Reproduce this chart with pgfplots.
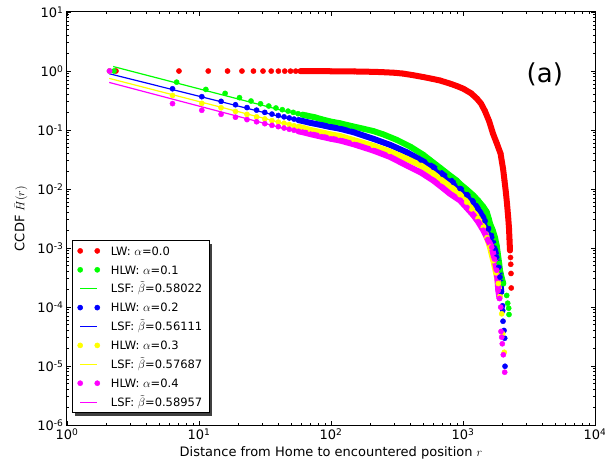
\documentclass[border=0pt]{standalone}
\usepackage{fontspec}
\setmainfont{DejaVu Sans}
\usepackage{pgfplots}
\pgfplotsset{compat=1.18}
\definecolor{cR}{RGB}{255,0,0}
\definecolor{cG}{RGB}{0,255,0}
\definecolor{cB}{RGB}{0,0,255}
\definecolor{cY}{RGB}{255,255,0}
\definecolor{cM}{RGB}{255,0,255}
\pgfplotsset{
  band/.style={line width=6pt, line join=round, line cap=round, no marks, forget plot},
  dots/.style={only marks, mark=*, mark size=2.6pt,
    legend image code/.code={\draw[##1, only marks, mark repeat=1, mark phase=1] plot coordinates {(0cm,0cm) (0.6cm,0cm)};}},
  fit/.style={no marks, line width=1.2pt},
}
\begin{document}
\begin{tikzpicture}
\begin{axis}[
  scale only axis, width=528pt, height=413pt,
  xmode=log, ymode=log,
  xmin=1, xmax=10000, ymin=1e-6, ymax=10,
  xtick={1,10,100,1000,10000},
  xticklabels={10\textsuperscript{0},10\textsuperscript{1},10\textsuperscript{2},10\textsuperscript{3},10\textsuperscript{4}},
  ytick={1e-6,1e-5,1e-4,1e-3,1e-2,1e-1,1,10},
  yticklabels={10\textsuperscript{-6},10\textsuperscript{-5},10\textsuperscript{-4},10\textsuperscript{-3},10\textsuperscript{-2},10\textsuperscript{-1},10\textsuperscript{0},10\textsuperscript{1}},
  tick label style={font=\fontsize{13}{15}\selectfont},
  label style={font=\fontsize{13}{15}\selectfont},
  xlabel={Distance from Home to encountered position $r$},
  ylabel={CCDF $\bar{H}(r)$},
  ylabel shift=3pt,
  axis line style={line width=1pt},
  tick style={line width=0.8pt, black},
  major tick length=4.5pt, minor tick length=2.5pt,
  legend cell align=left,
  legend style={at={(axis description cs:0.0197,0.4449)}, anchor=north west,
    font=\fontsize{11.5}{13}\selectfont, draw=none, fill=none,
    inner sep=0pt, inner ysep=3.25pt, row sep=6.5pt, column sep=11pt,
    nodes={inner sep=0pt, text height=10.4pt, text depth=2pt}},
]
% LW alpha=0.0
\addplot[band, cR] coordinates {(58.75,0.994) (63.45,0.994) (80,0.993) (100,0.99) (150,0.982) (200,0.97) (235,0.96) (300,0.935) (350,0.905) (418,0.85) (500,0.79) (580,0.74) (670,0.69) (800,0.61) (900,0.555) (1007,0.50) (1150,0.42) (1275,0.34) (1370,0.28) (1466,0.21) (1580,0.14) (1687,0.087) (1800,0.06) (1925,0.040) (2012,0.022) (2063,0.0138) (2110,0.009) (2154,0.0057) (2200,0.0033) (2230,0.0022) (2250,0.0014) (2270,0.00091)};
\addplot[dots, cR] coordinates {(2.35,1.0) (7.05,0.999) (11.75,0.999) (16.45,0.998) (21.15,0.998) (25.85,0.997) (30.55,0.997) (35.25,0.996) (39.95,0.996) (44.65,0.995) (49.35,0.995) (54.05,0.995) (58.75,0.994) (63.45,0.994) (80,0.993) (100,0.99) (150,0.982) (200,0.97) (235,0.96) (300,0.935) (350,0.905) (418,0.85) (500,0.79) (580,0.74) (670,0.69) (800,0.61) (900,0.555) (1007,0.50) (1150,0.42) (1275,0.34) (1370,0.28) (1466,0.21) (1580,0.14) (1687,0.087) (1800,0.06) (1925,0.040) (2012,0.022) (2063,0.0138) (2110,0.009) (2154,0.0057) (2200,0.0033) (2230,0.0022) (2250,0.0014) (2270,0.00091) (2290,0.00069) (2300,0.00053) (2310,0.00037) (2320,0.00021)};
\addlegendentry{LW: $\alpha$=0.0}
% HLW alpha=0.1
\addplot[band, cG] coordinates {(60.77,0.182) (65,0.176) (75,0.165) (85,0.152) (98,0.140) (117,0.130) (140,0.118) (176,0.105) (209,0.096) (250,0.084) (315,0.068) (400,0.052) (500,0.038) (562,0.031) (670,0.0229) (797,0.0169) (896,0.0139) (949,0.0122) (1067,0.0098) (1197,0.0078) (1300,0.0064) (1425,0.0050) (1512,0.0041) (1570,0.0031) (1601,0.0026) (1680,0.0020) (1748,0.0015) (1800,0.0011) (1851,0.0007) (1880,0.00055) (1907,0.00042) (1960,0.00032) (2020,0.00025)};
\addplot[dots, cG] coordinates {(2.27,1.0) (6.77,0.647) (11.27,0.487) (15.77,0.418) (20.27,0.353) (24.77,0.31) (29.27,0.278) (33.77,0.255) (38.27,0.236) (42.77,0.221) (47.27,0.209) (51.77,0.199) (56.27,0.189) (60.77,0.182) (65,0.176) (75,0.165) (85,0.152) (98,0.140) (117,0.130) (140,0.118) (176,0.105) (209,0.096) (250,0.084) (315,0.068) (400,0.052) (500,0.038) (562,0.031) (670,0.0229) (797,0.0169) (896,0.0139) (949,0.0122) (1067,0.0098) (1197,0.0078) (1300,0.0064) (1425,0.0050) (1512,0.0041) (1570,0.0031) (1601,0.0026) (1680,0.0020) (1748,0.0015) (1800,0.0011) (1851,0.0007) (1880,0.00055) (1907,0.00042) (1960,0.00032) (2020,0.00025) (2143,0.000157) (2181,0.000116) (2219,0.0000955) (2231,0.0000746)};
\addlegendentry{HLW: $\alpha$=0.1}
\addplot[fit, cG] coordinates {(2.24,1.19) (100,0.131)};
\addlegendentry{LSF: $\tilde{\beta}$=0.58022}
% HLW alpha=0.2
\addplot[band, cB] coordinates {(56.7,0.147) (60.9,0.142) (70,0.132) (85,0.121) (100,0.112) (117,0.105) (150,0.091) (209,0.071) (280,0.056) (375,0.042) (480,0.031) (596,0.0234) (700,0.0178) (844,0.0130) (949,0.0102) (1067,0.0080) (1197,0.0060) (1300,0.0046) (1400,0.0035) (1468,0.0029) (1560,0.0021) (1650,0.00152) (1730,0.0010) (1800,0.0007) (1860,0.00047) (1907,0.00032) (1950,0.00018)};
\addplot[dots, cB] coordinates {(2.1,1.0) (6.3,0.50) (10.5,0.367) (14.7,0.306) (18.9,0.268) (23.1,0.240) (27.3,0.217) (31.5,0.199) (35.7,0.186) (39.9,0.176) (44.1,0.167) (48.3,0.160) (52.5,0.153) (56.7,0.147) (60.9,0.142) (70,0.132) (85,0.121) (100,0.112) (117,0.105) (150,0.091) (209,0.071) (280,0.056) (375,0.042) (480,0.031) (596,0.0234) (700,0.0178) (844,0.0130) (949,0.0102) (1067,0.0080) (1197,0.0060) (1300,0.0046) (1400,0.0035) (1468,0.0029) (1560,0.0021) (1650,0.00152) (1730,0.0010) (1800,0.0007) (1860,0.00047) (1907,0.00032) (1950,0.00018) (1995,0.000105) (2000,0.0000873) (2010,0.0000574) (2045,0.000040) (2070,0.0000296) (2081,0.0000099)};
\addlegendentry{HLW: $\alpha$=0.2}
\addplot[fit, cB] coordinates {(2.09,0.90) (100,0.1026)};
\addlegendentry{LSF: $\tilde{\beta}$=0.56111}
% HLW alpha=0.3
\addplot[band, cY] coordinates {(56.7,0.113) (60.9,0.109) (70,0.100) (85,0.091) (100,0.084) (117,0.079) (150,0.067) (209,0.054) (280,0.043) (375,0.0325) (480,0.025) (596,0.0181) (700,0.0137) (844,0.0100) (949,0.0080) (1067,0.0060) (1160,0.0046) (1300,0.0032) (1425,0.00225) (1520,0.0015) (1601,0.00103) (1696,0.00061) (1780,0.00038) (1851,0.00025) (1900,0.00015)};
\addplot[dots, cY] coordinates {(2.1,1.0) (6.3,0.385) (10.5,0.283) (14.7,0.238) (18.9,0.206) (23.1,0.184) (27.3,0.167) (31.5,0.154) (35.7,0.144) (39.9,0.136) (44.1,0.130) (48.3,0.124) (52.5,0.118) (56.7,0.113) (60.9,0.109) (70,0.100) (85,0.091) (100,0.084) (117,0.079) (150,0.067) (209,0.054) (280,0.043) (375,0.0325) (480,0.025) (596,0.0181) (700,0.0137) (844,0.0100) (949,0.0080) (1067,0.0060) (1160,0.0046) (1300,0.0032) (1425,0.00225) (1520,0.0015) (1601,0.00103) (1696,0.00061) (1780,0.00038) (1851,0.00025) (1900,0.00015) (1965,0.0000767) (1999,0.0000352) (2055,0.0000171)};
\addlegendentry{HLW: $\alpha$=0.3}
\addplot[fit, cY] coordinates {(2.09,0.75) (100,0.0804)};
\addlegendentry{LSF: $\tilde{\beta}$=0.57687}
% HLW alpha=0.4
\addplot[band, cM] coordinates {(56.7,0.095) (60.9,0.092) (70,0.085) (85,0.077) (100,0.071) (117,0.0664) (150,0.057) (209,0.0449) (280,0.035) (375,0.025) (480,0.019) (596,0.0139) (700,0.0105) (797,0.0083) (949,0.0064) (1067,0.0048) (1197,0.0036) (1300,0.0028) (1425,0.0020) (1540,0.0014) (1650,0.00103) (1730,0.00065) (1800,0.00042) (1851,0.00019) (1890,0.00014)};
\addplot[dots, cM] coordinates {(2.1,1.0) (6.3,0.28) (10.5,0.216) (14.7,0.185) (18.9,0.165) (23.1,0.150) (27.3,0.138) (31.5,0.128) (35.7,0.120) (39.9,0.114) (44.1,0.108) (48.3,0.103) (52.5,0.099) (56.7,0.095) (60.9,0.092) (70,0.085) (85,0.077) (100,0.071) (117,0.0664) (150,0.057) (209,0.0449) (280,0.035) (375,0.025) (480,0.019) (596,0.0139) (700,0.0105) (797,0.0083) (949,0.0064) (1067,0.0048) (1197,0.0036) (1300,0.0028) (1425,0.0020) (1540,0.0014) (1650,0.00103) (1730,0.00065) (1800,0.00042) (1851,0.00019) (1890,0.00014) (1930,0.0000993) (1941,0.0000385) (1965,0.0000308) (1985,0.0000238) (2020,0.0000155) (2070,0.00000785)};
\addlegendentry{HLW: $\alpha$=0.4}
\addplot[fit, cM] coordinates {(2.09,0.64) (100,0.0654)};
\addlegendentry{LSF: $\tilde{\beta}$=0.58957}
\node at (rel axis cs:0.905,0.85) {\fontsize{26}{28}\selectfont (a)};
\end{axis}
% legend frame with drop shadow
\fill[black!75] (142pt,9pt) rectangle (145pt,181pt);
\fill[black!75] (8pt,9pt) rectangle (145pt,12pt);
\draw[line width=1pt] (5pt,12pt) rectangle (142pt,184pt);
\pgfresetboundingbox
\path[use as bounding box] (-67pt,-38pt) rectangle (538pt,425pt);
\end{tikzpicture}
\end{document}
